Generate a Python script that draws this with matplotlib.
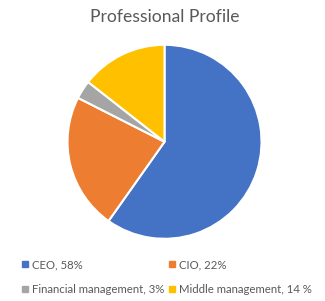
import matplotlib
matplotlib.use("Agg")
import matplotlib.pyplot as plt
from matplotlib.lines import Line2D

categories = ["CEO", "CIO", "Financial management", "Middle management"]
values = [58, 22, 3, 14]
labels = ["CEO, 58%", "CIO, 22%", "Financial management, 3%", "Middle management, 14 %"]
colors = ["#4472C4", "#ED7D31", "#A5A5A5", "#FFC000"]
title = "Professional Profile"

plt.rcParams['font.family'] = ['Lato', 'DejaVu Sans']

fig = plt.figure(figsize=(3.25, 3.01), dpi=100)
ax = fig.add_axes([0.2077, 0.2067, 0.597, 0.6445])
ax.pie(values, colors=colors, startangle=90, counterclock=False,
       wedgeprops=dict(edgecolor="white", linewidth=1.5))
ax.set_xlim(-1.0, 1.0)
ax.set_ylim(-1.0, 1.0)
ax.set_aspect("equal")

fig.text(0.506, 1 - 17 / 301, title, ha="center", va="center",
         fontsize=12.6, color="#595959")

# legend order: row-major as in reference
order = [0, 2, 1, 3]  # column-major for ncol=2
handles = [Line2D([], [], marker="s", linestyle="none", markersize=4,
                  markerfacecolor=colors[i], markeredgecolor=colors[i]) for i in order]
leg = fig.legend(handles, [labels[i] for i in order], ncol=2,
                 loc="upper left", bbox_to_anchor=(0.065, 1 - 259 / 301),
                 frameon=False, fontsize=8.2, labelcolor="#595959",
                 handlelength=0.6, handletextpad=0.35, columnspacing=0.35,
                 labelspacing=1.25, borderaxespad=0, borderpad=0)

fig.savefig("out.png", dpi=100)
